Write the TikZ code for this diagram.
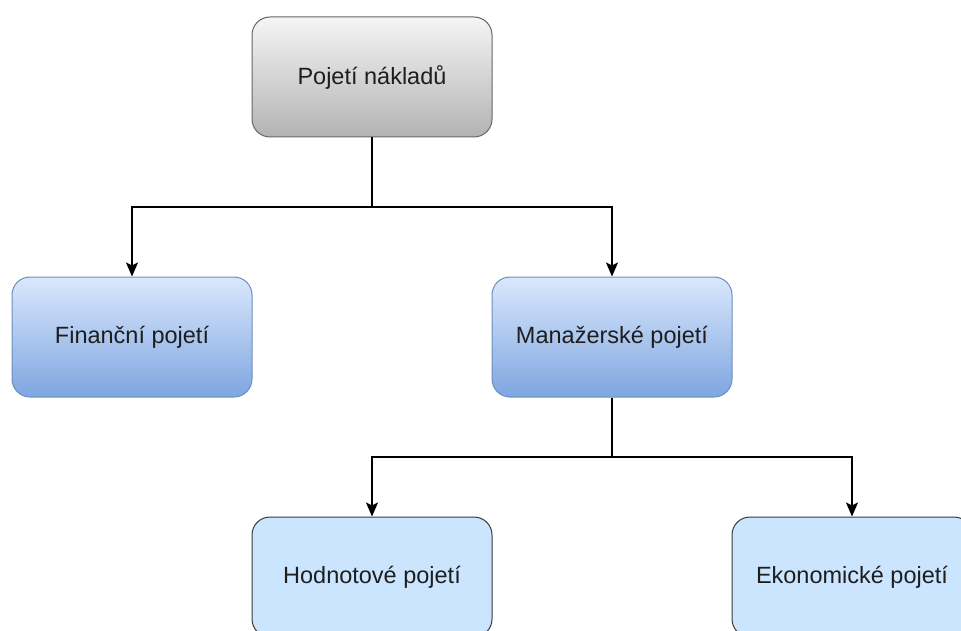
\documentclass[tikz,border=0pt]{standalone}
\usepackage{fontspec}
\setmainfont{Liberation Sans}
\usetikzlibrary{arrows.meta}
\definecolor{grayTop}{HTML}{F5F5F5}
\definecolor{grayBot}{HTML}{B3B3B3}
\definecolor{grayLine}{HTML}{666666}
\definecolor{blueTop}{HTML}{DAE8FC}
\definecolor{blueBot}{HTML}{7EA6E0}
\definecolor{blueLine}{HTML}{6C8EBF}
\definecolor{paleFill}{HTML}{CCE5FF}
\definecolor{paleLine}{HTML}{36393D}
\definecolor{txt}{HTML}{1E1E1E}
\tikzset{
  box/.style={rounded corners=18pt, minimum width=240pt, minimum height=120pt,
    inner sep=0pt, line width=1pt, font=\fontsize{23.5}{27}\selectfont, text=txt},
  rootbox/.style={box, draw=grayLine, top color=grayTop, bottom color=grayBot},
  midbox/.style={box, draw=blueLine, top color=blueTop, bottom color=blueBot},
  leafbox/.style={box, draw=paleLine, fill=paleFill},
  link/.style={line width=1.6pt, -{Stealth[length=14pt,width=12pt,inset=3pt]}}
}
\begin{document}
\begin{tikzpicture}[x=1pt,y=-1pt]
  \useasboundingbox (0,0) rectangle (961,631);
  \fill[white] (0,0) rectangle (961,631);

  \node[rootbox] (root) at (372,77) {Pojetí nákladů};
  \node[midbox]  (fin)  at (132,337) {Finanční pojetí};
  \node[midbox]  (man)  at (612,337) {Manažerské pojetí};
  \node[leafbox] (hod)  at (372,577) {Hodnotové pojetí};
  \node[leafbox] (eko)  at (852,577) {Ekonomické pojetí};

  % branching connectors
  \coordinate (j1) at (372,207);
  \coordinate (j2) at (612,457);
  \draw[link] (root.south) -- (j1) -| (fin.north);
  \draw[link] (root.south) -- (j1) -| (man.north);
  \draw[link] (man.south) -- (j2) -| (hod.north);
  \draw[link] (man.south) -- (j2) -| (eko.north);
\end{tikzpicture}
\end{document}
